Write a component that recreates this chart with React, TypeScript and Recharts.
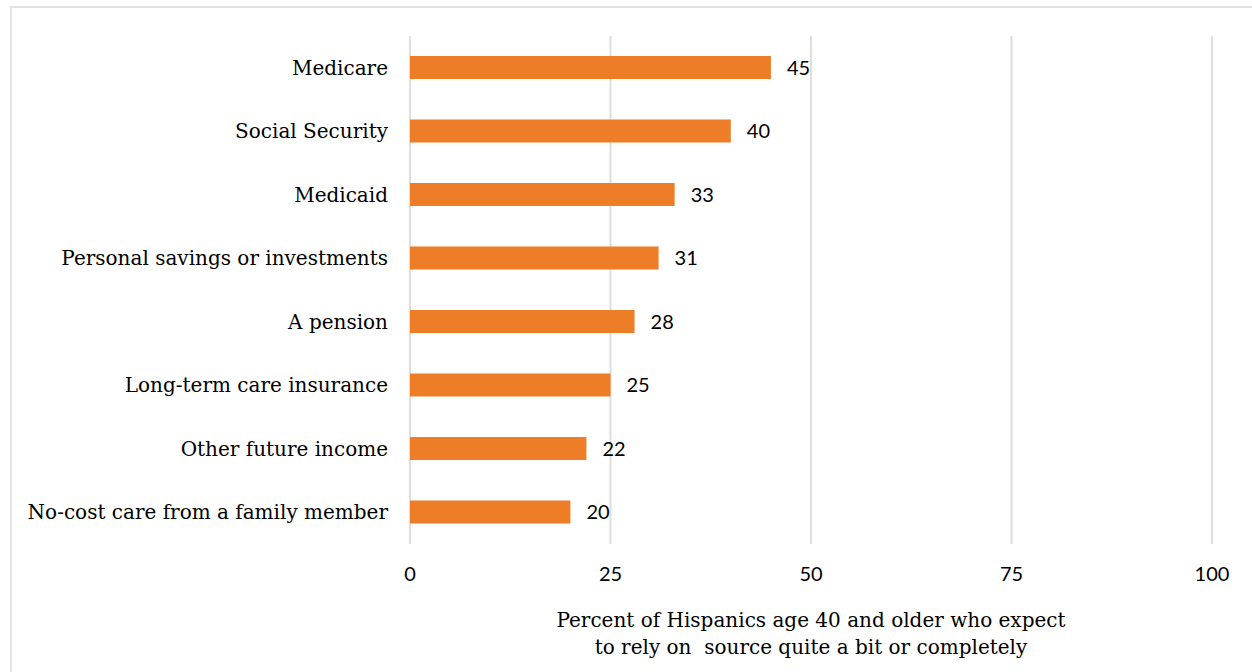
import { BarChart, Bar, XAxis, YAxis, CartesianGrid, LabelList } from "recharts";

const sources = [
  "Medicare",
  "Social Security",
  "Medicaid",
  "Personal savings or investments",
  "A pension",
  "Long-term care insurance",
  "Other future income",
  "No-cost care from a family member",
];
const shares = [45, 40, 33, 31, 28, 25, 22, 20];
const xTicks = [0, 25, 50, 75, 100];
const titleLines = [
  "Percent of Hispanics age 40 and older who expect",
  "to rely on  source quite a bit or completely",
];

const data = sources.map((source, i) => ({ source, share: shares[i] }));

const serif = "'DejaVu Serif', serif";
const sans = "Lato, 'Liberation Sans', sans-serif";

const AxisTitle = ({ viewBox }: any) => {
  const cx = viewBox.x + viewBox.width / 2;
  return (
    <text
      x={cx}
      y={620}
      textAnchor="middle"
      fill="#000"
      style={{ fontFamily: serif, fontSize: 20 }}
    >
      {titleLines.map((line, i) => (
        <tspan key={i} x={cx} y={627 + i * 27} style={{ whiteSpace: "pre" }}>
          {line}
        </tspan>
      ))}
    </text>
  );
};

export default function App() {
  return (
    <div
      style={{
        position: "absolute",
        left: 0,
        top: 0,
        width: 1252,
        height: 672,
        background: "#fff",
        overflow: "hidden",
      }}
    >
      <div
        style={{
          position: "absolute",
          left: 10,
          top: 6,
          width: 1300,
          height: 700,
          border: "2px solid #e2e2e2",
        }}
      />
      <BarChart
        width={1252}
        height={672}
        layout="vertical"
        data={data}
        margin={{ top: 36, right: 40, bottom: 0, left: 0 }}
        style={{ position: "absolute", left: 0, top: 0 }}
      >
        <CartesianGrid horizontal={false} stroke="#dedede" strokeWidth={2} />
        <XAxis
          type="number"
          domain={[0, 100]}
          ticks={xTicks}
          axisLine={false}
          tickLine={false}
          tickSize={6}
          tickMargin={17}
          height={128}
          tick={{ fill: "#000", fontSize: 20, fontFamily: sans }}
          label={<AxisTitle />}
        />
        <YAxis
          type="category"
          dataKey="source"
          width={410}
          axisLine={false}
          tickLine={false}
          tickSize={6}
          tickMargin={16}
          tick={{ fill: "#000", fontSize: 20, fontFamily: serif }}
        />
        <Bar dataKey="share" fill="#ED7D27" barSize={23} isAnimationActive={false}>
          <LabelList
            dataKey="share"
            position="right"
            offset={16}
            fill="#000"
            style={{ fontSize: 20, fontFamily: sans }}
          />
        </Bar>
      </BarChart>
    </div>
  );
}
